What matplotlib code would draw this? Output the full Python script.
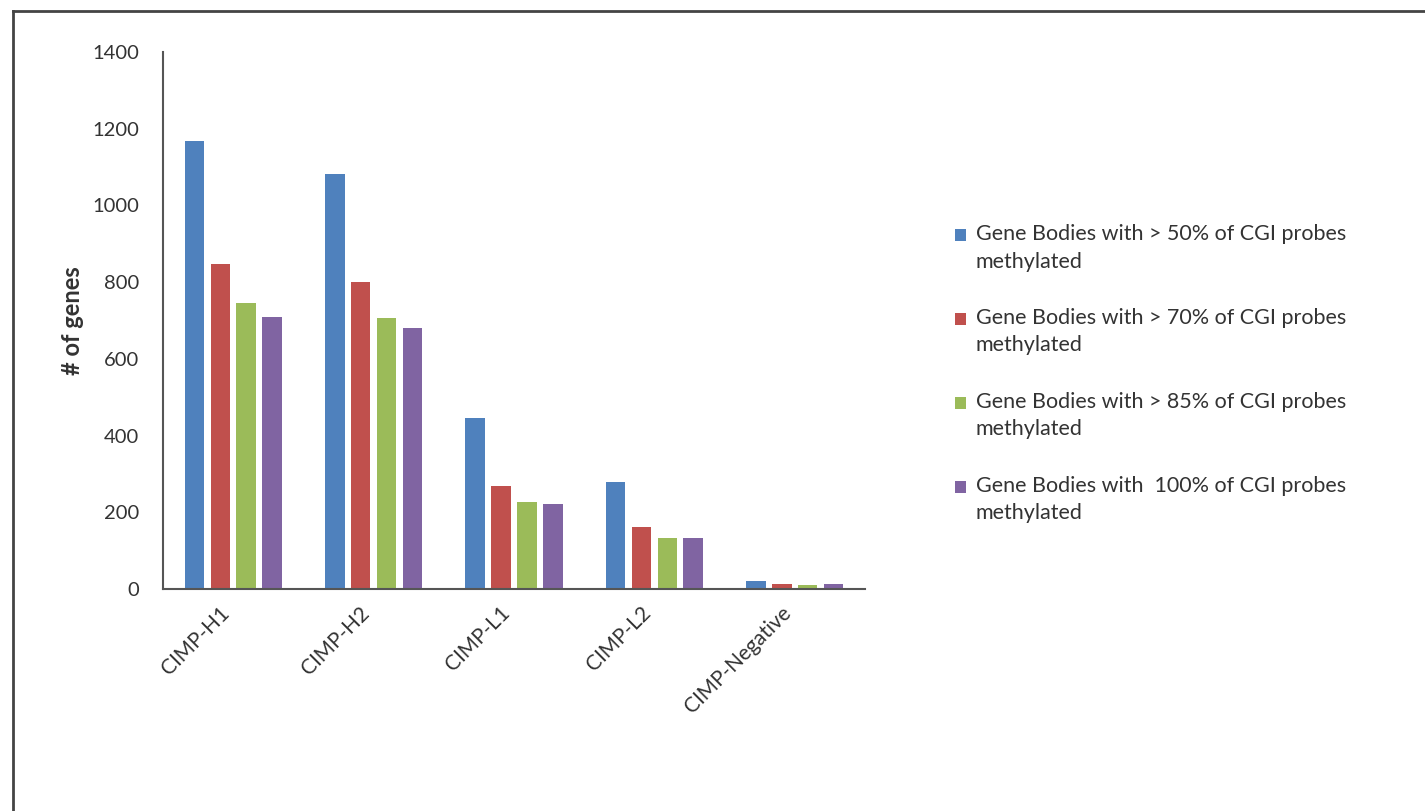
import matplotlib
matplotlib.use("Agg")
import matplotlib.pyplot as plt
from matplotlib.lines import Line2D
from matplotlib.patches import Rectangle
from matplotlib.legend_handler import HandlerBase
from matplotlib.container import BarContainer
import numpy as np

categories = ["CIMP-H1", "CIMP-H2", "CIMP-L1", "CIMP-L2", "CIMP-Negative"]
series_labels = [
    "Gene Bodies with > 50% of CGI probes\nmethylated",
    "Gene Bodies with > 70% of CGI probes\nmethylated",
    "Gene Bodies with > 85% of CGI probes\nmethylated",
    "Gene Bodies with  100% of CGI probes\nmethylated",
]
gt50 = [1169, 1081, 445, 278, 22]
gt70 = [846, 800, 268, 162, 12]
gt85 = [746, 706, 226, 134, 10]
eq100 = [710, 680, 221, 132, 12]
series = [gt50, gt70, gt85, eq100]
colors = ["#4F81BD", "#C0504D", "#9BBB59", "#8064A2"]
yticks = [0, 200, 400, 600, 800, 1000, 1200, 1400]

plt.rcParams['font.family'] = ['Lato', 'DejaVu Sans']

W, H = 1425, 811
fig = plt.figure(figsize=(W / 100, H / 100), dpi=100)
ax = fig.add_axes([163 / W, 1 - 589 / H, (865 - 163) / W, (589 - 52) / H])

x = np.arange(len(categories))
step = 0.184
width = 0.139
for i, (vals, c, lab) in enumerate(zip(series, colors, series_labels)):
    ax.bar(x + (i - 1.5) * step, vals, width=width, color=c, label=lab)

ax.set_xlim(-0.5, len(categories) - 0.5)
ax.set_ylim(0, 1400)
ax.set_yticks(yticks)
ax.set_yticklabels([str(v) for v in yticks], fontsize=14.5, color="#333333")
ax.tick_params(axis="y", length=0, pad=17)
ax.set_xticks(x)
ax.set_xticklabels(categories, rotation=45, ha="right", va="top",
                   rotation_mode="default", fontsize=15, color="#333333")
ax.tick_params(axis="x", length=0, pad=10)
for s in ["top", "right"]:
    ax.spines[s].set_visible(False)
for s in ["left", "bottom"]:
    ax.spines[s].set_color("#555555")
    ax.spines[s].set_linewidth(1.5)

ax.set_ylabel("# of genes", fontsize=17, fontweight="bold", color="#333333", labelpad=6)


class TopHandler(HandlerBase):
    def __init__(self, shift, **kw):
        super().__init__(**kw)
        self.shift = shift

    def create_artists(self, legend, orig_handle, xdescent, ydescent, width, height,
                       fontsize, trans):
        fc = orig_handle.patches[0].get_facecolor()
        p = Rectangle((-xdescent, -ydescent + self.shift), width, height,
                      facecolor=fc, edgecolor="none", transform=trans)
        return [p]


handles, labels = ax.get_legend_handles_labels()
leg_fs = 15.5
leg = fig.legend(handles, labels, loc="upper left", bbox_to_anchor=(936 / W, 1 - 205 / H),
                 frameon=False, fontsize=leg_fs, handlelength=0.5, handleheight=0.5,
                 handletextpad=0.45, labelspacing=1.70,
                 handler_map={BarContainer: TopHandler(9.4)})
for t in leg.get_texts():
    t.set_color("#333333")
    t.set_linespacing(1.45)

# outer frame (left and top edges visible)
fx = 13 / W
fy = 1 - 11 / H
fig.add_artist(Line2D([fx, fx], [0, fy], transform=fig.transFigure, color="#444444", lw=2))
fig.add_artist(Line2D([fx, 1], [fy, fy], transform=fig.transFigure, color="#444444", lw=2))

fig.savefig("out.png", dpi=100, facecolor="white")
